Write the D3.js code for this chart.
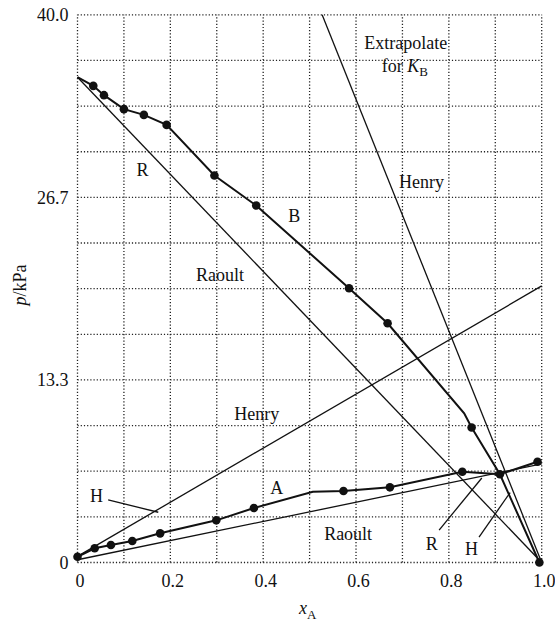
<!DOCTYPE html>
<html>
<head>
<meta charset="utf-8">
<script src="https://cdn.jsdelivr.net/npm/d3@7"></script>
<style>
  html, body { margin: 0; padding: 0; background: #fff; }
  svg { display: block; font-family: "Liberation Serif", "DejaVu Serif", serif; }
</style>
</head>
<body>
<svg id="chart" width="555" height="626"></svg>
<script>
// presión parcial vs fracción molar x_A, con rectas de Raoult y Henry

// curva A (p_A), vértices y cuáles llevan punto
const xA = [0, 0.037, 0.072, 0.118, 0.178, 0.299, 0.380, 0.507, 0.573, 0.673, 0.829, 0.910, 0.991];
const pA = [0.42, 1.04, 1.28, 1.57, 2.13, 3.08, 3.98, 5.17, 5.22, 5.49, 6.63, 6.44, 7.36];
const dotA = [1, 1, 1, 1, 1, 1, 1, 0, 1, 1, 1, 1, 1];

// curva B (p_B)
const xB = [0, 0.034, 0.057, 0.100, 0.143, 0.192, 0.295, 0.385, 0.585, 0.668, 0.833, 0.849, 0.910, 0.995];
const pB = [35.44, 34.81, 34.13, 33.11, 32.69, 31.96, 28.26, 26.07, 20.03, 17.47, 10.90, 9.86, 6.44, 0];
const dotB = [0, 1, 1, 1, 1, 1, 1, 1, 1, 1, 0, 1, 0, 1];

// rectas ideales: [x0, x1], [p0, p1]
const raoultA_x = [0, 1], raoultA_p = [0.2, 7.2];
const henryA_x = [0, 1], henryA_p = [0.45, 20.2];
const raoultB_x = [0, 1], raoultB_p = [35.44, 0];
const henryB_x = [0.527, 1], henryB_p = [40, 0];

// ticks
const xTickVals = [0, 0.2, 0.4, 0.6, 0.8, 1.0];
const xTickLabels = ['0', '0.2', '0.4', '0.6', '0.8', '1.0'];
const yTickVals = [0, 40 / 3, 80 / 3, 40];
const yTickLabels = ['0', '13.3', '26.7', '40.0'];

const svg = d3.select('#chart');
const x = d3.scaleLinear().domain([0, 1]).range([77.5, 541.7]);
const y = d3.scaleLinear().domain([0, 40]).range([562.5, 14.8]);
const FS = 18;

// grilla punteada (incluye el borde)
const grid = svg.append('g').attr('stroke', '#222').attr('stroke-width', 1.3)
  .attr('stroke-dasharray', '1.2,2');
d3.range(0, 11).map(i => i / 10).forEach(v => {
  grid.append('line').attr('x1', x(v)).attr('x2', x(v)).attr('y1', y(0)).attr('y2', y(40));
});
d3.range(0, 13).map(i => i * 40 / 12).forEach(v => {
  grid.append('line').attr('x1', x(0)).attr('x2', x(1)).attr('y1', y(v)).attr('y2', y(v));
});

// ejes: sólo etiquetas
const ax = svg.append('g').attr('transform', `translate(0,${y(0)})`)
  .call(d3.axisBottom(x).tickValues(xTickVals).tickFormat((d, i) => xTickLabels[i]).tickSize(0).tickPadding(12));
const ay = svg.append('g').attr('transform', `translate(${x(0)},0)`)
  .call(d3.axisLeft(y).tickValues(yTickVals).tickFormat((d, i) => yTickLabels[i]).tickSize(0).tickPadding(9));
[ax, ay].forEach(a => {
  a.select('.domain').remove();
  a.selectAll('text').attr('font-family', '"Liberation Serif", serif').style('font-size', FS + 'px').attr('fill', '#111');
});
ax.selectAll('text').attr('dx', 2);

// títulos
const yt = svg.append('text').attr('transform', 'translate(26,285) rotate(-90)')
  .attr('text-anchor', 'middle').style('font-size', FS + 'px').attr('fill', '#111');
yt.append('tspan').attr('font-style', 'italic').text('p');
yt.append('tspan').text('/kPa');
const xt = svg.append('text').attr('x', 299).attr('y', 614).style('font-size', FS + 'px').attr('fill', '#111');
xt.append('tspan').attr('font-style', 'italic').text('x');
xt.append('tspan').attr('dy', 5).style('font-size', '13px').text('A');

// rectas de Raoult y Henry
const straight = [[raoultA_x, raoultA_p], [henryA_x, henryA_p], [raoultB_x, raoultB_p], [henryB_x, henryB_p]];
svg.append('g').selectAll('line').data(straight).join('line')
  .attr('x1', d => x(d[0][0])).attr('y1', d => y(d[1][0]))
  .attr('x2', d => x(d[0][1])).attr('y2', d => y(d[1][1]))
  .attr('stroke', '#111').attr('stroke-width', 1.3);

// curvas experimentales
const line = d3.line().x(d => x(d[0])).y(d => y(d[1]));
const ptsA = xA.map((v, i) => [v, pA[i], dotA[i]]);
const ptsB = xB.map((v, i) => [v, pB[i], dotB[i]]);
[ptsA, ptsB].forEach(pts => {
  svg.append('path').attr('d', line(pts)).attr('fill', 'none')
    .attr('stroke', '#111').attr('stroke-width', 2);
  svg.append('g').selectAll('circle').data(pts.filter(d => d[2])).join('circle')
    .attr('cx', d => x(d[0])).attr('cy', d => y(d[1])).attr('r', 4.3).attr('fill', '#111');
});

// líneas indicadoras
const pointers = [
  [[0.066, 4.57], [0.174, 3.67]],
  [[0.779, 2.37], [0.871, 6.17]],
  [[0.865, 1.86], [0.932, 5.11]],
];
svg.append('g').selectAll('line').data(pointers).join('line')
  .attr('x1', d => x(d[0][0])).attr('y1', d => y(d[0][1]))
  .attr('x2', d => x(d[1][0])).attr('y2', d => y(d[1][1]))
  .attr('stroke', '#111').attr('stroke-width', 1.3);

// rótulos
const labels = [
  ['Extrapolate', 0.707, 37.97],
  ['Henry', 0.741, 27.82],
  ['R', 0.140, 28.72],
  ['B', 0.467, 25.33],
  ['Raoult', 0.307, 21.0],
  ['Henry', 0.386, 10.9],
  ['H', 0.041, 4.86],
  ['A', 0.429, 5.44],
  ['Raoult', 0.583, 2.08],
  ['R', 0.763, 1.40],
  ['H', 0.849, 1.04],
];
svg.append('g').selectAll('text').data(labels).join('text')
  .attr('x', d => x(d[1])).attr('y', d => y(d[2])).attr('dy', '0.35em')
  .attr('text-anchor', 'middle').style('font-size', FS + 'px').attr('fill', '#111')
  .text(d => d[0]);
const kb = svg.append('text').attr('x', x(0.705)).attr('y', y(36.29)).attr('dy', '0.35em')
  .attr('text-anchor', 'middle').style('font-size', FS + 'px').attr('fill', '#111');
kb.append('tspan').text('for ');
kb.append('tspan').attr('font-style', 'italic').text('K');
kb.append('tspan').attr('dy', 4).style('font-size', '13px').text('B');
</script>
</body>
</html>
